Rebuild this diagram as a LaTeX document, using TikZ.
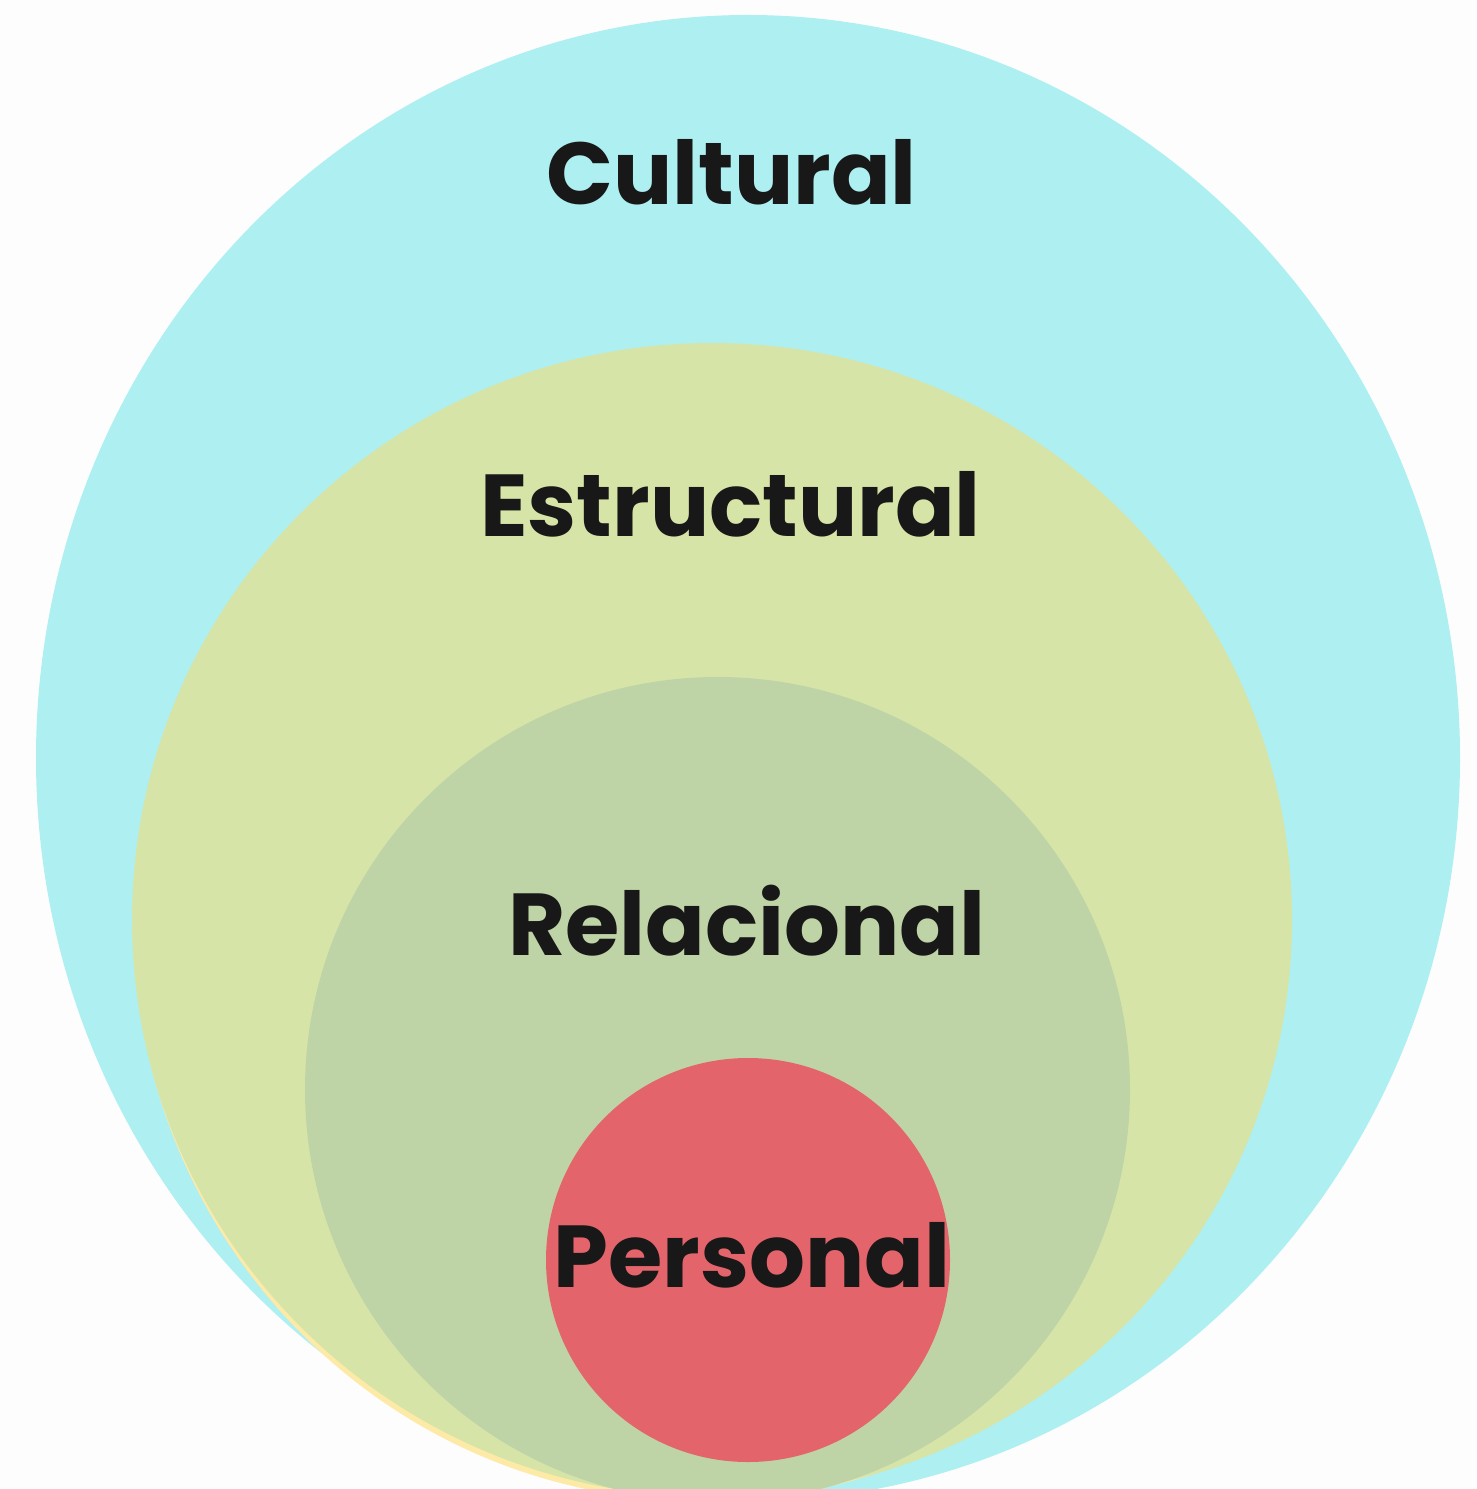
\documentclass[tikz,border=0pt]{standalone}
\usepackage{fontspec}
\setmainfont{Poppins}[BoldFont={* Bold}]
\usetikzlibrary{positioning}

\definecolor{paper}{HTML}{FDFDFD}
\definecolor{cultcol}{HTML}{AEEFF2}
\definecolor{estcol}{HTML}{D6E5A7}
\definecolor{relcol}{HTML}{BFD4A6}
\definecolor{perscol}{HTML}{E3646A}
\definecolor{shadecol}{HTML}{FDEAA6}
\definecolor{ink}{HTML}{181818}

\begin{document}
\begin{tikzpicture}[x=0.01cm,y=-0.01cm,
  level/.style={text=ink,font=\fontsize{25}{30}\selectfont\bfseries,anchor=base,inner sep=0pt}]

\useasboundingbox (0,0) rectangle (1476,1489);
\clip (0,0) rectangle (1476,1489);
\fill[paper] (0,0) rectangle (1476,1489);

% rings, outside in
\fill[cultcol]  (748,758)  ellipse [x radius=712, y radius=743];
\fill[shadecol] (702,926)  ellipse [x radius=568, y radius=575];
\fill[estcol]   (712,920)  ellipse [x radius=580, y radius=577];
\fill[relcol]   (717.5,1089.5) circle [radius=412.5];
\fill[perscol]  (748,1260) circle [radius=202];

\node[level] (cultural)    at (731.5,205) {Cultural};
\node[level] (estructural) at (730.5,537) {Estructural};
\node[level] (relacional)  at (747,955)   {Relacional};
\node[level] (personal)    at (752,1287)  {Personal};

\end{tikzpicture}
\end{document}
